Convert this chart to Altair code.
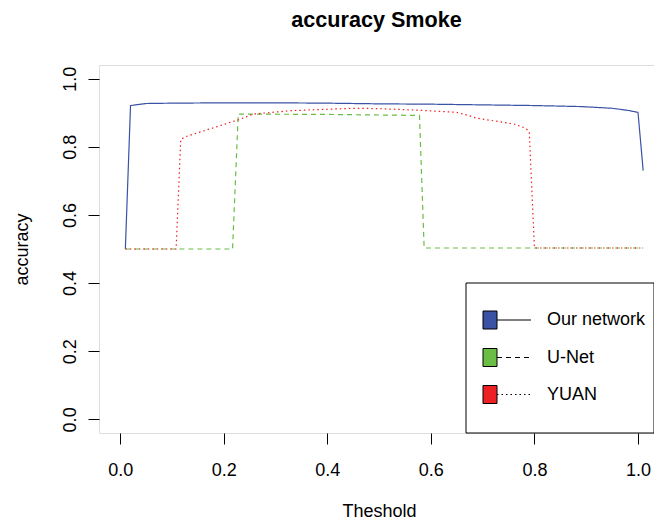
import altair as alt
import pandas as pd

# ---- data ----
series_names = ["Our network", "U-Net", "YUAN"]
series_colors = ["#3A53A4", "#6ABD45", "#ED2024"]
series_dashes = [[1, 0], [5, 4], [1.5, 3]]

ours_x = [0.01, 0.02, 0.05, 0.10, 0.20, 0.30, 0.40, 0.50, 0.60, 0.70, 0.80, 0.89, 0.95, 0.98, 1.00, 1.01]
ours_y = [0.500, 0.921, 0.927, 0.928, 0.929, 0.929, 0.928, 0.926, 0.925, 0.923, 0.921, 0.918, 0.913, 0.907, 0.901, 0.730]

unet_x = [0.01, 0.217, 0.228, 0.40, 0.578, 0.587, 1.01]
unet_y = [0.500, 0.500, 0.896, 0.895, 0.892, 0.503, 0.503]

yuan_x = [0.01, 0.108, 0.117, 0.125, 0.228, 0.257, 0.33, 0.45, 0.50, 0.58, 0.65, 0.672, 0.688, 0.76, 0.782, 0.79, 0.80, 1.01]
yuan_y = [0.500, 0.500, 0.821, 0.829, 0.879, 0.896, 0.906, 0.913, 0.912, 0.907, 0.901, 0.892, 0.884, 0.867, 0.855, 0.845, 0.503, 0.503]

tick_values = [0.0, 0.2, 0.4, 0.6, 0.8, 1.0]

rows = []
for name, xs, ys in zip(series_names, [ours_x, unet_x, yuan_x], [ours_y, unet_y, yuan_y]):
    for i, (a, b) in enumerate(zip(xs, ys)):
        rows.append({"series": name, "threshold": a, "accuracy": b, "idx": i})
df = pd.DataFrame(rows)

FONT = "Liberation Sans"
W, H = 555, 368

xscale = alt.Scale(domain=[-0.0409, 1.0309], nice=False, zero=False)
yscale = alt.Scale(domain=[-0.04, 1.04], nice=False, zero=False)

lines = alt.Chart(df).mark_line(strokeWidth=1.2).encode(
    x=alt.X("threshold:Q", scale=xscale,
            axis=alt.Axis(values=tick_values, format=".1f", tickSize=11, domain=False, grid=False,
                          labelBaseline="alphabetic", labelPadding=31, labelFontSize=18,
                          labelFont=FONT, labelColor="black", tickColor="black",
                          title="Theshold", titleFont=FONT, titleFontSize=18, titleFontWeight="normal",
                          titleColor="black", titleX=280, titleY=83, titleBaseline="alphabetic")),
    y=alt.Y("accuracy:Q", scale=yscale,
            axis=alt.Axis(values=tick_values, format=".1f", tickSize=11, domain=False, grid=False,
                          labelAngle=270, labelAlign="center", labelBaseline="alphabetic",
                          labelPadding=13, labelFontSize=18, labelFont=FONT, labelColor="black",
                          tickColor="black",
                          title="accuracy", titleFont=FONT, titleFontSize=18, titleFontWeight="normal",
                          titleColor="black", titleAngle=270, titleX=-72, titleY=H / 2,
                          titleBaseline="alphabetic", titleAlign="center")),
    color=alt.Color("series:N", scale=alt.Scale(domain=series_names, range=series_colors), legend=None),
    strokeDash=alt.StrokeDash("series:N", scale=alt.Scale(domain=series_names, range=series_dashes), legend=None),
    detail="series:N",
    order="idx:Q",
)

one = pd.DataFrame({"k": [0]})

# legend frame
legend_box = alt.Chart(one).mark_rect(fill="white", stroke="black", strokeWidth=1).encode(
    x=alt.value(367), x2=alt.value(W), y=alt.value(218), y2=alt.value(H)
)

layers = [lines, legend_box]
row_y = [255, 292.5, 329.5]
for name, col, dash, ry in zip(series_names, series_colors, series_dashes, row_y):
    sq = alt.Chart(one).mark_rect(fill=col, stroke="black", strokeWidth=1).encode(
        x=alt.value(384), x2=alt.value(398), y=alt.value(ry - 9), y2=alt.value(ry + 9)
    )
    ln = alt.Chart(one).mark_rule(color="black", strokeWidth=1, strokeDash=dash).encode(
        x=alt.value(398), x2=alt.value(432), y=alt.value(ry)
    )
    tx = alt.Chart(one).mark_text(align="left", baseline="middle", fontSize=18, font=FONT,
                                  color="black").encode(
        x=alt.value(448), y=alt.value(ry), text=alt.value(name)
    )
    layers += [sq, ln, tx]

chart = alt.layer(*layers).properties(
    width=W, height=H,
    title=alt.TitleParams(text="accuracy Smoke", fontSize=21.6, font=FONT, fontWeight="bold",
                          anchor="middle", baseline="alphabetic", offset=16.5, color="black"),
    padding={"left": 91, "top": 57, "right": 0, "bottom": 92},
    autosize=alt.AutoSizeParams(type="none"),
).configure_view(stroke="black", strokeWidth=1).configure(background="white")

chart.save("out.html", embed_options={"renderer": "svg", "actions": False})
